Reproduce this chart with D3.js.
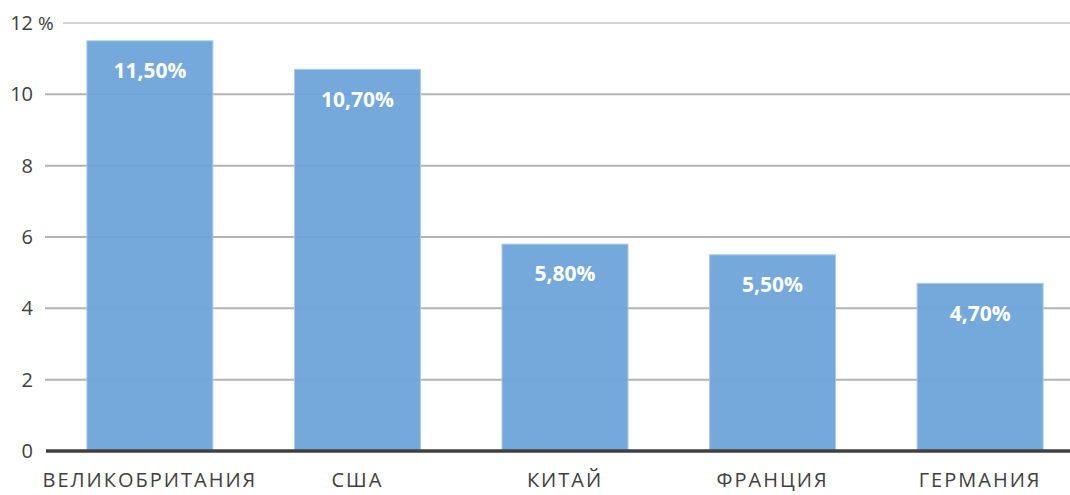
<!DOCTYPE html>
<html><head><meta charset="utf-8">
<script src="https://cdn.jsdelivr.net/npm/d3@7"></script>
<style>body{margin:0;background:#fff}svg{display:block}</style>
</head><body>
<svg id="c" width="1070" height="495"></svg>
<script>
const categories = ["ВЕЛИКОБРИТАНИЯ","США","КИТАЙ","ФРАНЦИЯ","ГЕРМАНИЯ"];
const values = [11.5, 10.7, 5.8, 5.5, 4.7];
const valueLabels = ["11,50%","10,70%","5,80%","5,50%","4,70%"];
const yTicks = [0,2,4,6,8,10,12];
const yTickLabels = ["0","2","4","6","8","10","12"];

const svg = d3.select("#c");
const font = "'Open Sans', sans-serif";
const x = d3.scaleBand().domain(categories).range([46, 1084]).paddingInner(0.393).paddingOuter(0.197);
const y = d3.scaleLinear().domain([0, 12]).range([451, 23]);

// gridlines
svg.append("g").selectAll("line").data(yTicks.filter(d => d > 0)).join("line")
  .attr("x1", d => d === 12 ? 63 : 45).attr("x2", 1070)
  .attr("y1", d => y(d)).attr("y2", d => y(d))
  .attr("stroke", d => d === 12 ? "#d4d4d4" : "#b4b4b4").attr("stroke-width", 2);

// y labels
svg.append("g").selectAll("text").data(yTicks).join("text")
  .attr("x", 33).attr("y", d => y(d)).attr("dy", "0.35em")
  .attr("text-anchor", "end").attr("font-family", font).attr("font-size", 20)
  .attr("fill", "#404040").text((d, i) => yTickLabels[i]);
svg.append("text").attr("x", 38).attr("y", y(12)).attr("dy", "0.35em")
  .attr("font-family", font).attr("font-size", 19).attr("fill", "#404040").text("%");

// bars
svg.append("g").selectAll("rect").data(values).join("rect")
  .attr("x", (d, i) => x(categories[i])).attr("width", x.bandwidth())
  .attr("y", d => y(d)).attr("height", d => y(0) - y(d))
  .attr("fill", "#6aa3d9").attr("fill-opacity", 0.93)
  .attr("stroke", "#a9c9ea").attr("stroke-width", 1);

// baseline
svg.append("line").attr("x1", 46).attr("x2", 1070).attr("y1", y(0)).attr("y2", y(0))
  .attr("stroke", "#404040").attr("stroke-width", 3.5);

// value labels
svg.append("g").selectAll("text").data(values).join("text")
  .attr("x", (d, i) => x(categories[i]) + x.bandwidth() / 2)
  .attr("y", d => y(d) + 30).attr("dy", "0.35em")
  .attr("text-anchor", "middle").attr("font-family", font).attr("font-weight", "bold")
  .attr("font-size", 21).attr("fill", "#fff").text((d, i) => valueLabels[i]);

// category labels
svg.append("g").selectAll("text").data(categories).join("text")
  .attr("x", d => x(d) + x.bandwidth() / 2).attr("y", 487)
  .attr("text-anchor", "middle").attr("font-family", font).attr("font-size", 20)
  .attr("letter-spacing", 2).attr("fill", "#404040").text(d => d);
</script>
</body></html>
